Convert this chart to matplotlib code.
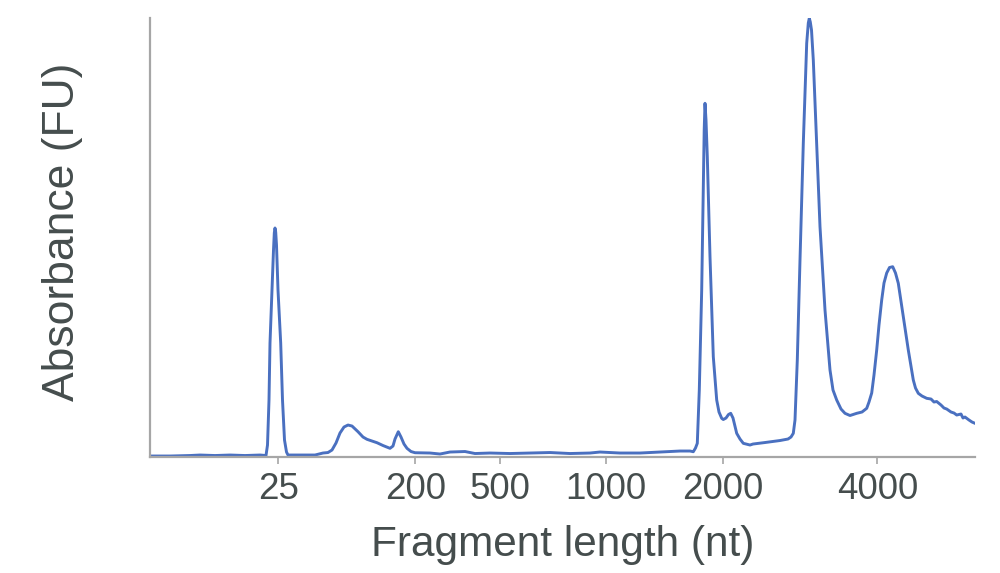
import matplotlib.pyplot as plt

plt.rcParams['font.family'] = ['Liberation Sans', 'DejaVu Sans']

# Electropherogram trace (migration position, signal in arbitrary units)
position = [0, 20, 40, 50, 65, 80, 95, 110, 116, 117.5, 119, 120, 122, 123.5, 124.3, 125,
            125.7, 126.5, 128, 130.7, 132.5, 134.5, 136.5, 138, 150, 165, 173, 178, 182,
            186, 190, 194, 198, 202, 208, 213, 217, 222, 227, 233, 240, 243, 245,
            248.3, 251, 254, 257, 261, 265, 280, 290, 300, 315, 325, 340, 360, 380,
            400, 420, 440, 450, 470, 490, 510, 530, 540, 543.3, 545.5, 547.3, 549.3,
            551.7, 553.3, 554.2, 555, 556, 557.3, 560, 563.3, 566.7, 569, 571.7,
            573.3, 576, 578.5, 580.7, 583, 586.7, 590, 593.3, 600, 603, 615, 630,
            638, 641, 643.3, 645, 647.3, 650, 653.3, 656.7, 658.3, 659.3, 660.3, 661.5, 663.3,
            666.7, 670, 675, 680, 683, 686.7, 691, 695, 700, 706.7, 712, 716.7, 719,
            721.7, 724, 726.7, 729, 731.7, 734, 736.7, 739.5, 742.7, 745.5, 748.3,
            753.3, 758.3, 763.3, 765.5, 768.3, 772, 776.7, 781, 784, 786.7, 791, 794,
            796.7, 801, 804, 806.7, 811, 813, 815, 819, 822, 825]
signal = [1, 1, 1.5, 2, 1.5, 2, 1.5, 2, 1.5, 12, 57, 114, 167, 207, 224, 229,
          225, 212, 167, 114, 57, 17, 5, 2, 2, 2, 4, 4.5, 7,
          14, 24, 30, 32, 31, 25.3, 20, 17.7, 16, 14.3, 11.5, 8.7, 11, 18,
          25.3, 20, 13, 8.7, 5.5, 4.3, 4, 3, 5, 5.5, 3.5, 4, 3.5, 4,
          4.5, 3.5, 4, 5, 4, 4, 5, 6, 6, 5.3, 9, 13.7, 67,
          167, 267, 327, 353.7, 337, 300.3, 200.3, 100.3, 57, 45, 38.7,
          37.5, 39, 42.5, 43.7, 39, 23.7, 18, 13.7, 12, 13, 14.5, 16.5,
          18, 20, 23.7, 37, 97, 197, 313.7, 413.7, 434, 438.7, 435, 427, 397,
          313.7, 230.3, 147, 87, 67, 57, 48, 43.7, 41.5, 43.7, 45, 48.7, 55,
          64, 82, 107, 132, 157, 174, 184, 189.5, 190.3, 184, 173.7,
          140.3, 107, 77, 69, 63.7, 61, 58.7, 58, 55, 55.5, 52, 49,
          48, 45, 44, 42, 43, 39, 40, 37, 35, 33.7]

# size markers on the x axis
tick_pos = [128.3, 265.3, 350, 456, 572.7, 727.3]
tick_labels = ['25', '200', '500', '1000', '2000', '4000']

text_color = '#454d4d'
spine_color = '#a6a6a6'

fig = plt.figure(figsize=(10, 5.73), dpi=100)
ax = fig.add_axes([0.15, 0.2024, 0.825, 0.7662])

ax.plot(position, signal, color='#4a70c0', lw=2.1, solid_joinstyle='round')

ax.set_xlim(0, 825)
ax.set_ylim(0, 439)
ax.set_xticks(tick_pos)
ax.set_xticklabels(tick_labels)
ax.set_yticks([])

for s in ['top', 'right']:
    ax.spines[s].set_visible(False)
for s in ['left', 'bottom']:
    ax.spines[s].set_color(spine_color)
    ax.spines[s].set_linewidth(1.6)

ax.tick_params(axis='x', length=5, width=1.2, color=spine_color,
               labelsize=26.5, labelcolor=text_color, pad=6)

ax.set_xlabel('Fragment length (nt)', fontsize=30.5, color=text_color)
ax.xaxis.set_label_coords(0.5, -0.155)
ax.set_ylabel('Absorbance (FU)', fontsize=32, color=text_color)
ax.yaxis.set_label_coords(-0.081, 0.514)

fig.savefig('out.png', dpi=100)
